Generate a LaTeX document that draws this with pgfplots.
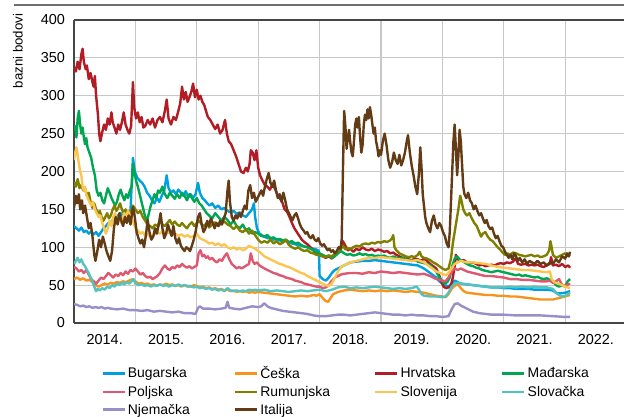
\documentclass[border=0pt]{standalone}
\usepackage{fontspec}
\setmainfont{Liberation Sans}
\usepackage{pgfplots}
\pgfplotsset{compat=1.18}

\definecolor{cBG}{RGB}{0,160,223}
\definecolor{cCZ}{RGB}{247,148,30}
\definecolor{cHR}{RGB}{178,28,36}
\definecolor{cHU}{RGB}{0,166,81}
\definecolor{cPL}{RGB}{221,88,112}
\definecolor{cRO}{RGB}{128,128,0}
\definecolor{cSI}{RGB}{250,198,80}
\definecolor{cSK}{RGB}{84,194,190}
\definecolor{cDE}{RGB}{153,142,200}
\definecolor{cIT}{RGB}{99,60,22}
\definecolor{gridc}{RGB}{200,200,200}
\definecolor{axc}{RGB}{70,70,70}

\begin{document}
\begin{tikzpicture}
\useasboundingbox (-74bp,-94bp) rectangle (550bp,323bp);
\draw[color={rgb,255:red,110;green,110;blue,110}, line width=1.1bp] (-60bp,318bp) -- (550bp,318bp);
\node[rotate=90, font=\fontsize{13.3}{15}\selectfont] at (-56bp,272bp) {bazni bodovi};
\begin{axis}[
  scale only axis, width=550bp, height=303bp,
  xmin=2014, xmax=2022.958, ymin=0, ymax=400,
  axis x line*=bottom, axis y line*=left,
  axis line style={-, draw=axc, line width=1.1bp},
  xtick={2014.5,2015.5,...,2022.5},
  xticklabels={2014.,2015.,2016.,2017.,2018.,2019.,2020.,2021.,2022.},
  minor xtick={2015,2016,...,2022},
  ytick={0,50,...,400},
  xminorgrids=true, xmajorgrids=false, ymajorgrids=true,
  grid style={draw=gridc, line width=0.9bp},
  minor grid style={draw=gridc, line width=1.1bp},
  major tick length=0pt, minor tick length=0pt,
  /pgf/number format/assume math mode=true,
  tick label style={font=\fontsize{14.5}{16}\selectfont},
  yticklabel style={xshift=-5.5bp},
  xticklabel style={yshift=-7.5bp},
  legend columns=4,
  legend cell align=left,
  legend style={draw=none, fill=none, at={(axis description cs:0.044,-0.13)}, anchor=north west,
    font=\fontsize{14}{15}\selectfont, row sep=2bp,
    /tikz/every even column/.append style={column sep=42bp},
    /tikz/column 2/.append style={column sep=52bp}},
  legend image code/.code={\draw[#1, line width=2.5bp] (0bp,0bp) -- (22bp,0bp);},
  every axis plot/.append style={line width=2.4bp, line join=round}
]
% Bugarska
\addplot[cBG] coordinates {(2014.00,128)(2014.04,125)(2014.08,122)(2014.12,126)(2014.16,120)(2014.20,122)(2014.24,118)(2014.28,121)(2014.32,117)(2014.36,120)(2014.40,115)(2014.44,120)(2014.48,125)(2014.52,128)(2014.56,132)(2014.60,130)(2014.64,138)(2014.68,135)(2014.72,142)(2014.76,145)(2014.80,140)(2014.84,146)(2014.88,142)(2014.92,148)(2014.96,218)(2014.99,200)(2015.03,192)(2015.07,188)(2015.11,185)(2015.15,180)(2015.19,172)(2015.23,168)(2015.27,162)(2015.31,158)(2015.35,165)(2015.39,160)(2015.43,168)(2015.47,175)(2015.51,195)(2015.54,178)(2015.58,172)(2015.62,175)(2015.66,170)(2015.70,176)(2015.74,172)(2015.78,168)(2015.82,174)(2015.86,166)(2015.90,170)(2015.94,165)(2015.98,170)(2016.02,185)(2016.05,172)(2016.09,165)(2016.13,162)(2016.17,158)(2016.21,155)(2016.25,158)(2016.30,152)(2016.35,155)(2016.40,150)(2016.45,152)(2016.50,148)(2016.55,146)(2016.60,148)(2016.65,144)(2016.70,146)(2016.75,142)(2016.80,140)(2016.85,145)(2016.90,150)(2016.93,158)(2016.95,140)(2016.98,125)(2017.02,118)(2017.06,116)(2017.10,114)(2017.15,112)(2017.20,112)(2017.25,110)(2017.30,111)(2017.35,109)(2017.40,108)(2017.45,108)(2017.50,106)(2017.55,105)(2017.60,104)(2017.65,103)(2017.70,102)(2017.75,101)(2017.80,100)(2017.85,99)(2017.90,98)(2017.95,97)(2017.99,95)(2018.00,62)(2018.05,58)(2018.10,56)(2018.15,60)(2018.20,66)(2018.25,70)(2018.30,72)(2018.35,74)(2018.40,76)(2018.45,78)(2018.50,80)(2018.60,81)(2018.70,82)(2018.80,82)(2018.90,83)(2019.00,82)(2019.10,81)(2019.20,80)(2019.30,79)(2019.40,78)(2019.50,77)(2019.60,76)(2019.70,72)(2019.80,66)(2019.90,60)(2019.95,55)(2020.00,52)(2020.05,50)(2020.10,48)(2020.15,52)(2020.20,56)(2020.25,54)(2020.30,52)(2020.40,51)(2020.50,50)(2020.60,49)(2020.70,48)(2020.80,47)(2020.90,47)(2021.00,46)(2021.10,46)(2021.20,45)(2021.30,45)(2021.40,45)(2021.50,44)(2021.60,44)(2021.70,44)(2021.80,43)(2021.85,40)(2021.90,39)(2022.00,40)(2022.08,42)};
\addlegendentry{Bugarska}
% Češka
\addplot[cCZ] coordinates {(2014.00,58)(2014.05,60)(2014.10,57)(2014.15,59)(2014.20,56)(2014.25,57)(2014.30,54)(2014.35,50)(2014.40,48)(2014.45,50)(2014.50,52)(2014.55,51)(2014.60,53)(2014.65,52)(2014.70,54)(2014.75,53)(2014.80,55)(2014.85,54)(2014.90,56)(2014.95,58)(2015.00,55)(2015.05,52)(2015.10,53)(2015.15,51)(2015.20,52)(2015.25,50)(2015.30,51)(2015.35,49)(2015.40,51)(2015.45,50)(2015.50,52)(2015.55,50)(2015.60,51)(2015.65,49)(2015.70,50)(2015.75,48)(2015.80,50)(2015.85,49)(2015.90,48)(2015.95,50)(2016.00,49)(2016.05,47)(2016.10,48)(2016.15,46)(2016.20,47)(2016.25,45)(2016.30,46)(2016.35,44)(2016.40,45)(2016.45,43)(2016.50,44)(2016.55,42)(2016.60,43)(2016.65,41)(2016.70,42)(2016.75,41)(2016.80,42)(2016.85,40)(2016.90,41)(2016.95,40)(2017.00,41)(2017.10,40)(2017.20,39)(2017.30,38)(2017.40,37)(2017.50,36)(2017.60,35)(2017.70,36)(2017.80,35)(2017.90,37)(2017.95,36)(2018.00,38)(2018.05,33)(2018.10,29)(2018.14,28)(2018.18,33)(2018.22,38)(2018.30,41)(2018.40,43)(2018.50,44)(2018.60,43)(2018.70,42)(2018.80,43)(2018.90,42)(2019.00,43)(2019.10,42)(2019.20,43)(2019.30,42)(2019.40,41)(2019.50,42)(2019.60,41)(2019.70,40)(2019.80,38)(2019.90,36)(2020.00,35)(2020.05,34)(2020.10,38)(2020.15,45)(2020.20,49)(2020.25,51)(2020.30,46)(2020.35,42)(2020.40,40)(2020.50,39)(2020.60,38)(2020.70,37)(2020.80,37)(2020.90,36)(2021.00,36)(2021.10,35)(2021.20,35)(2021.30,34)(2021.40,33)(2021.50,32)(2021.60,31)(2021.70,31)(2021.80,31)(2021.90,33)(2022.00,35)(2022.08,37)};
\addlegendentry{Češka}
% Hrvatska
\addplot[cHR] coordinates {(2014.00,338)(2014.03,332)(2014.06,345)(2014.09,335)(2014.12,355)(2014.14,362)(2014.16,345)(2014.19,335)(2014.21,340)(2014.24,322)(2014.27,330)(2014.30,318)(2014.32,312)(2014.34,326)(2014.36,300)(2014.39,275)(2014.41,250)(2014.43,240)(2014.46,252)(2014.49,262)(2014.52,255)(2014.55,270)(2014.58,262)(2014.61,278)(2014.63,265)(2014.66,258)(2014.69,250)(2014.72,262)(2014.75,255)(2014.78,265)(2014.81,278)(2014.84,262)(2014.87,255)(2014.90,250)(2014.93,260)(2014.96,318)(2014.98,285)(2015.01,270)(2015.04,278)(2015.07,265)(2015.10,272)(2015.13,258)(2015.16,260)(2015.20,268)(2015.24,262)(2015.28,270)(2015.32,258)(2015.36,268)(2015.40,272)(2015.44,265)(2015.48,280)(2015.51,295)(2015.54,270)(2015.58,262)(2015.62,272)(2015.66,268)(2015.70,280)(2015.73,290)(2015.76,312)(2015.79,295)(2015.82,305)(2015.85,292)(2015.88,298)(2015.91,305)(2015.94,316)(2015.97,298)(2016.00,308)(2016.03,295)(2016.06,300)(2016.09,292)(2016.12,288)(2016.15,280)(2016.18,272)(2016.22,268)(2016.26,262)(2016.30,256)(2016.34,262)(2016.38,250)(2016.42,255)(2016.46,268)(2016.49,250)(2016.52,240)(2016.56,236)(2016.60,228)(2016.64,220)(2016.68,210)(2016.72,200)(2016.76,198)(2016.80,205)(2016.83,200)(2016.86,210)(2016.88,228)(2016.91,225)(2016.94,215)(2016.97,228)(2017.00,205)(2017.03,195)(2017.07,188)(2017.11,182)(2017.15,180)(2017.19,176)(2017.23,182)(2017.27,178)(2017.31,170)(2017.35,165)(2017.39,160)(2017.43,150)(2017.47,147)(2017.51,140)(2017.55,132)(2017.59,125)(2017.63,120)(2017.67,115)(2017.71,110)(2017.75,107)(2017.80,104)(2017.85,100)(2017.90,96)(2017.95,92)(2018.00,90)(2018.05,88)(2018.10,86)(2018.15,88)(2018.20,85)(2018.25,90)(2018.30,95)(2018.35,100)(2018.38,108)(2018.42,102)(2018.46,96)(2018.50,98)(2018.55,94)(2018.60,98)(2018.65,96)(2018.70,100)(2018.75,97)(2018.80,96)(2018.85,98)(2018.90,95)(2018.95,97)(2019.00,96)(2019.05,94)(2019.10,95)(2019.15,92)(2019.20,93)(2019.25,90)(2019.30,88)(2019.35,86)(2019.40,85)(2019.45,84)(2019.50,83)(2019.55,85)(2019.60,84)(2019.65,82)(2019.70,85)(2019.75,82)(2019.80,78)(2019.85,75)(2019.90,72)(2019.94,65)(2019.98,55)(2020.02,48)(2020.06,46)(2020.10,47)(2020.14,50)(2020.17,60)(2020.20,75)(2020.22,90)(2020.25,84)(2020.30,82)(2020.35,83)(2020.40,80)(2020.45,79)(2020.50,80)(2020.55,78)(2020.60,76)(2020.65,77)(2020.70,75)(2020.75,76)(2020.80,77)(2020.85,76)(2020.90,78)(2020.95,79)(2021.00,78)(2021.05,80)(2021.10,79)(2021.15,81)(2021.20,86)(2021.23,78)(2021.28,77)(2021.35,78)(2021.40,76)(2021.45,77)(2021.50,76)(2021.55,77)(2021.60,75)(2021.65,74)(2021.70,76)(2021.75,78)(2021.77,87)(2021.80,76)(2021.85,77)(2021.90,75)(2021.95,78)(2022.00,74)(2022.05,76)(2022.08,73)};
\addlegendentry{Hrvatska}
% Mađarska
\addplot[cHU] coordinates {(2014.00,255)(2014.02,260)(2014.04,245)(2014.06,270)(2014.08,280)(2014.10,262)(2014.12,250)(2014.14,258)(2014.16,245)(2014.18,236)(2014.20,244)(2014.22,232)(2014.25,225)(2014.28,218)(2014.31,205)(2014.34,195)(2014.37,175)(2014.40,168)(2014.43,172)(2014.46,162)(2014.49,158)(2014.52,168)(2014.55,178)(2014.58,172)(2014.61,165)(2014.64,160)(2014.67,155)(2014.70,160)(2014.73,170)(2014.76,176)(2014.79,168)(2014.82,162)(2014.85,170)(2014.88,165)(2014.91,175)(2014.94,180)(2014.96,210)(2014.98,200)(2015.01,188)(2015.04,180)(2015.07,170)(2015.10,160)(2015.13,150)(2015.16,140)(2015.19,135)(2015.22,145)(2015.25,155)(2015.28,162)(2015.31,170)(2015.34,165)(2015.37,175)(2015.40,172)(2015.44,180)(2015.48,170)(2015.52,165)(2015.56,172)(2015.60,168)(2015.64,164)(2015.68,170)(2015.72,165)(2015.76,172)(2015.80,168)(2015.84,162)(2015.88,170)(2015.92,165)(2015.96,160)(2016.00,165)(2016.04,158)(2016.08,155)(2016.12,150)(2016.16,145)(2016.20,142)(2016.25,138)(2016.30,145)(2016.35,140)(2016.40,135)(2016.45,140)(2016.50,136)(2016.55,130)(2016.60,135)(2016.65,128)(2016.70,125)(2016.75,130)(2016.80,122)(2016.85,125)(2016.90,118)(2016.95,120)(2017.00,118)(2017.05,115)(2017.10,114)(2017.15,116)(2017.20,112)(2017.25,113)(2017.30,110)(2017.35,111)(2017.40,109)(2017.45,110)(2017.50,107)(2017.55,108)(2017.60,105)(2017.65,106)(2017.70,103)(2017.75,101)(2017.80,100)(2017.85,98)(2017.90,96)(2017.95,94)(2018.00,92)(2018.05,90)(2018.10,88)(2018.15,89)(2018.20,86)(2018.25,88)(2018.30,92)(2018.35,95)(2018.40,92)(2018.45,90)(2018.50,91)(2018.55,89)(2018.60,90)(2018.65,92)(2018.70,90)(2018.75,91)(2018.80,89)(2018.85,90)(2018.90,88)(2018.95,89)(2019.00,88)(2019.05,89)(2019.10,87)(2019.15,86)(2019.20,88)(2019.25,86)(2019.30,85)(2019.35,86)(2019.40,84)(2019.45,83)(2019.50,82)(2019.55,83)(2019.60,81)(2019.65,80)(2019.70,79)(2019.75,78)(2019.80,76)(2019.85,72)(2019.90,68)(2019.95,60)(2020.00,55)(2020.04,52)(2020.08,54)(2020.12,60)(2020.16,75)(2020.20,85)(2020.24,88)(2020.28,84)(2020.32,82)(2020.36,80)(2020.40,78)(2020.45,76)(2020.50,75)(2020.55,73)(2020.60,72)(2020.65,70)(2020.70,69)(2020.75,68)(2020.80,67)(2020.85,68)(2020.90,69)(2020.95,68)(2021.00,67)(2021.05,66)(2021.10,65)(2021.15,64)(2021.20,63)(2021.25,64)(2021.30,62)(2021.35,63)(2021.40,62)(2021.45,61)(2021.50,60)(2021.55,61)(2021.60,59)(2021.65,58)(2021.70,59)(2021.75,57)(2021.80,55)(2021.85,50)(2021.90,48)(2021.95,50)(2022.00,48)(2022.04,55)(2022.08,58)};
\addlegendentry{Mađarska}
% Poljska
\addplot[cPL] coordinates {(2014.00,74)(2014.04,72)(2014.08,68)(2014.12,70)(2014.16,66)(2014.20,70)(2014.24,64)(2014.28,58)(2014.32,55)(2014.36,52)(2014.40,56)(2014.44,60)(2014.48,58)(2014.52,62)(2014.56,66)(2014.60,63)(2014.64,60)(2014.68,64)(2014.72,62)(2014.76,66)(2014.80,63)(2014.84,68)(2014.88,65)(2014.92,70)(2014.96,68)(2015.00,72)(2015.04,68)(2015.08,64)(2015.12,66)(2015.16,62)(2015.20,60)(2015.24,61)(2015.28,58)(2015.32,60)(2015.36,62)(2015.40,66)(2015.44,72)(2015.48,76)(2015.52,72)(2015.56,70)(2015.60,74)(2015.64,72)(2015.68,76)(2015.72,74)(2015.76,78)(2015.80,75)(2015.84,73)(2015.88,75)(2015.92,72)(2015.96,74)(2016.00,76)(2016.03,92)(2016.06,96)(2016.09,88)(2016.12,90)(2016.15,86)(2016.18,88)(2016.21,84)(2016.25,86)(2016.29,82)(2016.33,80)(2016.37,84)(2016.41,82)(2016.45,88)(2016.49,92)(2016.53,84)(2016.57,78)(2016.61,75)(2016.65,72)(2016.69,74)(2016.73,72)(2016.77,74)(2016.81,76)(2016.85,78)(2016.88,92)(2016.91,82)(2016.94,78)(2016.98,80)(2017.02,76)(2017.06,74)(2017.10,72)(2017.15,70)(2017.20,68)(2017.25,66)(2017.30,65)(2017.35,63)(2017.40,62)(2017.45,60)(2017.50,59)(2017.55,58)(2017.60,56)(2017.65,55)(2017.70,54)(2017.75,52)(2017.80,51)(2017.85,50)(2017.90,49)(2017.95,48)(2018.00,48)(2018.05,46)(2018.10,47)(2018.15,50)(2018.20,56)(2018.25,60)(2018.30,62)(2018.35,64)(2018.40,65)(2018.50,66)(2018.60,66)(2018.70,65)(2018.80,67)(2018.90,66)(2019.00,68)(2019.10,67)(2019.20,66)(2019.30,67)(2019.40,66)(2019.50,65)(2019.60,64)(2019.70,65)(2019.80,62)(2019.90,58)(2020.00,56)(2020.05,55)(2020.10,60)(2020.15,68)(2020.20,72)(2020.25,70)(2020.30,72)(2020.40,68)(2020.50,66)(2020.60,64)(2020.70,62)(2020.80,62)(2020.90,61)(2021.00,60)(2021.10,58)(2021.20,58)(2021.30,57)(2021.40,57)(2021.50,56)(2021.60,55)(2021.70,55)(2021.75,56)(2021.80,53)(2021.85,55)(2021.90,58)(2021.95,50)(2022.00,49)(2022.08,52)};
\addlegendentry{Poljska}
% Rumunjska
\addplot[cRO] coordinates {(2014.00,186)(2014.03,180)(2014.06,190)(2014.09,178)(2014.12,182)(2014.15,175)(2014.18,178)(2014.21,168)(2014.24,172)(2014.27,160)(2014.30,152)(2014.33,158)(2014.36,150)(2014.39,145)(2014.42,148)(2014.45,140)(2014.48,135)(2014.51,140)(2014.54,145)(2014.57,138)(2014.60,142)(2014.63,150)(2014.66,155)(2014.69,148)(2014.72,152)(2014.75,158)(2014.78,150)(2014.81,145)(2014.84,150)(2014.87,142)(2014.90,148)(2014.93,145)(2014.96,155)(2015.00,150)(2015.04,145)(2015.08,148)(2015.12,140)(2015.16,135)(2015.20,130)(2015.24,128)(2015.28,125)(2015.32,130)(2015.36,128)(2015.40,135)(2015.44,130)(2015.48,128)(2015.52,132)(2015.56,136)(2015.60,130)(2015.64,134)(2015.68,130)(2015.72,128)(2015.76,132)(2015.80,128)(2015.84,125)(2015.88,130)(2015.92,133)(2015.96,128)(2016.00,132)(2016.04,135)(2016.08,130)(2016.12,128)(2016.16,132)(2016.20,126)(2016.25,130)(2016.30,133)(2016.35,128)(2016.40,132)(2016.45,134)(2016.50,130)(2016.55,128)(2016.60,124)(2016.65,128)(2016.70,122)(2016.75,120)(2016.80,124)(2016.85,118)(2016.90,122)(2016.95,116)(2017.00,110)(2017.05,106)(2017.10,108)(2017.15,106)(2017.20,110)(2017.25,105)(2017.30,108)(2017.35,104)(2017.40,106)(2017.45,110)(2017.50,103)(2017.55,100)(2017.60,98)(2017.65,100)(2017.70,97)(2017.75,95)(2017.80,96)(2017.85,93)(2017.90,92)(2017.95,90)(2018.00,89)(2018.05,88)(2018.10,87)(2018.15,89)(2018.20,88)(2018.25,92)(2018.30,95)(2018.35,98)(2018.38,102)(2018.42,97)(2018.46,99)(2018.50,98)(2018.55,100)(2018.60,102)(2018.65,101)(2018.70,104)(2018.75,105)(2018.80,104)(2018.85,106)(2018.90,105)(2018.95,107)(2019.00,106)(2019.05,108)(2019.10,107)(2019.15,109)(2019.18,112)(2019.20,116)(2019.22,100)(2019.25,96)(2019.30,92)(2019.35,90)(2019.40,88)(2019.45,87)(2019.50,88)(2019.55,87)(2019.60,90)(2019.63,94)(2019.66,88)(2019.70,86)(2019.75,85)(2019.80,83)(2019.85,80)(2019.90,78)(2019.95,75)(2020.00,72)(2020.05,70)(2020.10,72)(2020.14,85)(2020.17,105)(2020.20,120)(2020.23,135)(2020.26,150)(2020.29,168)(2020.31,162)(2020.34,150)(2020.37,145)(2020.40,142)(2020.44,145)(2020.48,138)(2020.52,132)(2020.56,128)(2020.60,120)(2020.63,114)(2020.66,118)(2020.70,120)(2020.74,114)(2020.78,110)(2020.82,108)(2020.86,104)(2020.90,100)(2020.94,97)(2020.98,93)(2021.02,90)(2021.06,92)(2021.10,90)(2021.15,93)(2021.20,92)(2021.25,90)(2021.30,89)(2021.35,88)(2021.40,89)(2021.45,90)(2021.50,88)(2021.55,89)(2021.60,87)(2021.65,88)(2021.70,90)(2021.74,96)(2021.76,108)(2021.78,100)(2021.80,90)(2021.85,86)(2021.90,88)(2021.95,90)(2022.00,92)(2022.04,88)(2022.08,90)};
\addlegendentry{Rumunjska}
% Slovenija
\addplot[cSI] coordinates {(2014.00,215)(2014.02,225)(2014.04,232)(2014.06,222)(2014.08,210)(2014.10,200)(2014.12,195)(2014.14,180)(2014.16,175)(2014.18,180)(2014.20,170)(2014.22,165)(2014.25,160)(2014.28,155)(2014.31,160)(2014.34,150)(2014.37,145)(2014.40,140)(2014.43,142)(2014.46,132)(2014.49,125)(2014.52,118)(2014.55,125)(2014.58,135)(2014.61,128)(2014.64,140)(2014.67,145)(2014.70,135)(2014.73,140)(2014.76,132)(2014.79,138)(2014.82,145)(2014.85,140)(2014.88,148)(2014.91,142)(2014.94,138)(2014.97,132)(2015.00,125)(2015.04,122)(2015.08,118)(2015.12,120)(2015.16,115)(2015.20,118)(2015.25,112)(2015.30,116)(2015.35,120)(2015.40,118)(2015.45,122)(2015.50,118)(2015.55,120)(2015.60,116)(2015.65,118)(2015.70,115)(2015.75,117)(2015.80,114)(2015.85,116)(2015.90,113)(2015.95,115)(2016.00,118)(2016.05,112)(2016.10,110)(2016.15,108)(2016.20,105)(2016.25,106)(2016.30,103)(2016.35,105)(2016.40,102)(2016.45,104)(2016.50,100)(2016.55,98)(2016.60,100)(2016.65,97)(2016.70,99)(2016.75,96)(2016.80,98)(2016.85,102)(2016.90,100)(2016.95,98)(2017.00,95)(2017.05,92)(2017.10,88)(2017.15,86)(2017.20,84)(2017.25,82)(2017.30,80)(2017.35,78)(2017.40,77)(2017.45,75)(2017.50,74)(2017.55,72)(2017.60,70)(2017.65,68)(2017.70,66)(2017.75,65)(2017.80,62)(2017.85,60)(2017.90,58)(2017.95,56)(2018.00,54)(2018.05,52)(2018.10,50)(2018.15,49)(2018.20,52)(2018.25,60)(2018.30,68)(2018.35,74)(2018.40,76)(2018.45,78)(2018.50,80)(2018.60,82)(2018.70,84)(2018.80,86)(2018.90,86)(2019.00,87)(2019.10,86)(2019.20,85)(2019.30,84)(2019.40,83)(2019.50,82)(2019.60,83)(2019.70,80)(2019.80,74)(2019.90,68)(2020.00,65)(2020.05,63)(2020.10,66)(2020.15,72)(2020.20,78)(2020.25,80)(2020.30,82)(2020.40,80)(2020.50,80)(2020.60,79)(2020.70,78)(2020.80,76)(2020.90,74)(2021.00,73)(2021.10,72)(2021.20,71)(2021.30,70)(2021.40,70)(2021.50,69)(2021.60,68)(2021.70,67)(2021.75,68)(2021.78,58)(2021.82,54)(2021.88,52)(2021.95,50)(2022.00,48)(2022.08,46)};
\addlegendentry{Slovenija}
% Slovačka
\addplot[cSK] coordinates {(2014.00,78)(2014.03,82)(2014.06,86)(2014.09,80)(2014.12,84)(2014.15,78)(2014.18,75)(2014.21,70)(2014.24,66)(2014.27,60)(2014.30,55)(2014.33,48)(2014.36,42)(2014.39,45)(2014.42,43)(2014.46,46)(2014.50,44)(2014.54,48)(2014.58,46)(2014.62,50)(2014.66,48)(2014.70,52)(2014.74,50)(2014.78,53)(2014.82,51)(2014.86,54)(2014.90,52)(2014.94,55)(2014.97,58)(2015.00,52)(2015.05,50)(2015.10,51)(2015.15,49)(2015.20,50)(2015.25,48)(2015.30,50)(2015.35,49)(2015.40,51)(2015.45,49)(2015.50,50)(2015.55,48)(2015.60,50)(2015.65,49)(2015.70,51)(2015.75,49)(2015.80,50)(2015.85,48)(2015.90,49)(2015.95,47)(2016.00,48)(2016.05,46)(2016.10,47)(2016.15,45)(2016.20,46)(2016.25,44)(2016.30,45)(2016.35,43)(2016.40,44)(2016.45,42)(2016.50,46)(2016.55,43)(2016.60,42)(2016.65,43)(2016.70,42)(2016.75,43)(2016.80,42)(2016.85,44)(2016.90,43)(2016.95,44)(2017.00,43)(2017.10,44)(2017.20,42)(2017.30,43)(2017.40,42)(2017.50,41)(2017.60,42)(2017.70,43)(2017.80,42)(2017.90,43)(2018.00,44)(2018.10,42)(2018.20,44)(2018.30,47)(2018.40,48)(2018.50,46)(2018.60,47)(2018.70,46)(2018.80,47)(2018.90,48)(2019.00,47)(2019.10,46)(2019.20,45)(2019.30,46)(2019.40,45)(2019.50,46)(2019.58,48)(2019.62,44)(2019.66,38)(2019.70,36)(2019.80,35)(2019.90,35)(2020.00,34)(2020.05,35)(2020.10,40)(2020.15,48)(2020.20,52)(2020.25,53)(2020.30,52)(2020.40,51)(2020.50,50)(2020.60,49)(2020.70,48)(2020.80,47)(2020.90,47)(2021.00,47)(2021.10,48)(2021.20,47)(2021.30,48)(2021.40,47)(2021.50,48)(2021.60,47)(2021.70,47)(2021.80,45)(2021.85,40)(2021.90,37)(2021.95,35)(2022.00,36)(2022.08,40)};
\addlegendentry{Slovačka}
% Njemačka
\addplot[cDE] coordinates {(2014.00,25)(2014.05,24)(2014.10,22)(2014.15,23)(2014.20,21)(2014.25,22)(2014.30,20)(2014.35,21)(2014.40,20)(2014.45,21)(2014.50,19)(2014.55,20)(2014.60,19)(2014.70,18)(2014.80,19)(2014.90,17)(2015.00,17)(2015.10,16)(2015.20,17)(2015.30,15)(2015.40,16)(2015.50,15)(2015.60,14)(2015.70,15)(2015.80,13)(2015.90,13)(2015.98,12)(2016.02,20)(2016.05,22)(2016.10,19)(2016.20,19)(2016.30,18)(2016.40,19)(2016.47,20)(2016.50,28)(2016.53,20)(2016.60,19)(2016.70,18)(2016.80,20)(2016.90,22)(2017.00,21)(2017.05,22)(2017.10,26)(2017.15,22)(2017.20,20)(2017.30,18)(2017.40,16)(2017.50,15)(2017.60,14)(2017.70,13)(2017.80,12)(2017.90,10)(2018.00,9)(2018.10,9)(2018.20,10)(2018.30,11)(2018.40,11)(2018.50,10)(2018.60,11)(2018.70,12)(2018.80,13)(2018.90,14)(2019.00,13)(2019.10,12)(2019.20,11)(2019.30,11)(2019.40,10)(2019.50,11)(2019.60,10)(2019.70,10)(2019.80,9)(2019.90,9)(2020.00,8)(2020.10,9)(2020.15,18)(2020.20,25)(2020.25,26)(2020.30,23)(2020.35,21)(2020.40,19)(2020.50,15)(2020.60,13)(2020.70,12)(2020.80,11)(2020.90,11)(2021.00,11)(2021.20,10)(2021.40,10)(2021.60,10)(2021.80,9)(2022.00,8)(2022.08,8)};
\addlegendentry{Njemačka}
% Italija
\addplot[cIT] coordinates {(2014.00,152)(2014.03,168)(2014.05,158)(2014.08,170)(2014.10,150)(2014.13,162)(2014.15,145)(2014.18,155)(2014.21,140)(2014.24,125)(2014.27,132)(2014.30,115)(2014.33,90)(2014.35,82)(2014.38,95)(2014.41,110)(2014.44,100)(2014.47,114)(2014.50,105)(2014.53,95)(2014.56,88)(2014.59,82)(2014.62,95)(2014.65,125)(2014.68,140)(2014.71,130)(2014.74,145)(2014.77,135)(2014.80,128)(2014.83,140)(2014.86,132)(2014.89,142)(2014.92,130)(2014.96,153)(2014.99,140)(2015.02,120)(2015.05,112)(2015.08,105)(2015.11,110)(2015.14,100)(2015.17,115)(2015.20,136)(2015.23,120)(2015.26,110)(2015.29,114)(2015.32,125)(2015.35,118)(2015.38,130)(2015.41,145)(2015.44,125)(2015.47,112)(2015.50,118)(2015.53,130)(2015.56,122)(2015.59,115)(2015.62,128)(2015.65,112)(2015.68,105)(2015.71,112)(2015.74,102)(2015.77,98)(2015.80,95)(2015.83,100)(2015.86,98)(2015.89,95)(2015.92,102)(2015.95,110)(2015.98,120)(2016.02,140)(2016.05,145)(2016.08,130)(2016.11,120)(2016.14,125)(2016.17,135)(2016.20,128)(2016.23,138)(2016.26,132)(2016.29,125)(2016.32,132)(2016.35,128)(2016.38,135)(2016.41,130)(2016.44,138)(2016.47,145)(2016.50,175)(2016.52,188)(2016.54,160)(2016.57,140)(2016.60,135)(2016.63,142)(2016.66,138)(2016.69,145)(2016.72,140)(2016.75,148)(2016.78,155)(2016.81,150)(2016.84,175)(2016.87,182)(2016.90,165)(2016.93,172)(2016.96,160)(2016.99,165)(2017.02,170)(2017.05,175)(2017.08,168)(2017.11,180)(2017.14,190)(2017.17,198)(2017.20,185)(2017.23,180)(2017.26,188)(2017.29,175)(2017.32,165)(2017.35,170)(2017.38,160)(2017.41,172)(2017.44,162)(2017.47,150)(2017.50,145)(2017.53,140)(2017.56,136)(2017.59,142)(2017.62,145)(2017.65,138)(2017.68,130)(2017.71,125)(2017.74,122)(2017.77,118)(2017.80,120)(2017.83,114)(2017.86,112)(2017.89,116)(2017.92,110)(2017.95,108)(2017.98,112)(2018.01,105)(2018.04,102)(2018.07,104)(2018.10,100)(2018.13,96)(2018.16,98)(2018.19,94)(2018.22,96)(2018.25,92)(2018.28,95)(2018.31,100)(2018.34,98)(2018.36,110)(2018.38,200)(2018.40,280)(2018.42,260)(2018.44,230)(2018.46,245)(2018.48,255)(2018.50,238)(2018.52,225)(2018.54,220)(2018.56,240)(2018.58,262)(2018.60,270)(2018.62,258)(2018.64,272)(2018.66,245)(2018.68,225)(2018.70,235)(2018.72,262)(2018.74,275)(2018.76,268)(2018.78,282)(2018.80,270)(2018.82,285)(2018.84,275)(2018.86,262)(2018.88,250)(2018.90,258)(2018.92,240)(2018.94,232)(2018.96,220)(2018.98,228)(2019.00,222)(2019.03,240)(2019.06,250)(2019.09,235)(2019.12,215)(2019.15,205)(2019.18,212)(2019.21,225)(2019.24,215)(2019.27,210)(2019.30,222)(2019.33,208)(2019.36,215)(2019.39,225)(2019.42,240)(2019.44,248)(2019.47,225)(2019.50,208)(2019.53,195)(2019.56,180)(2019.59,170)(2019.62,200)(2019.64,232)(2019.66,205)(2019.68,170)(2019.70,155)(2019.72,140)(2019.74,132)(2019.77,125)(2019.80,120)(2019.83,135)(2019.86,142)(2019.89,130)(2019.92,125)(2019.95,132)(2019.98,128)(2020.01,120)(2020.04,115)(2020.07,105)(2020.10,100)(2020.12,120)(2020.14,160)(2020.16,200)(2020.18,240)(2020.20,262)(2020.22,230)(2020.24,195)(2020.26,220)(2020.28,255)(2020.30,240)(2020.32,210)(2020.34,180)(2020.36,170)(2020.39,165)(2020.42,172)(2020.45,162)(2020.48,158)(2020.51,150)(2020.54,155)(2020.57,148)(2020.60,142)(2020.63,145)(2020.66,138)(2020.69,132)(2020.72,136)(2020.75,128)(2020.78,124)(2020.81,126)(2020.84,118)(2020.87,112)(2020.90,115)(2020.93,108)(2020.96,102)(2020.99,100)(2021.02,94)(2021.05,90)(2021.08,86)(2021.11,90)(2021.14,84)(2021.17,92)(2021.20,88)(2021.23,82)(2021.26,86)(2021.30,80)(2021.34,84)(2021.38,78)(2021.42,82)(2021.46,80)(2021.50,78)(2021.55,82)(2021.60,78)(2021.65,80)(2021.70,76)(2021.75,80)(2021.80,78)(2021.85,84)(2021.90,80)(2021.95,88)(2022.00,85)(2022.03,92)(2022.06,88)(2022.08,94)};
\addlegendentry{Italija}
\end{axis}
\draw[draw=axc, line width=1.1bp] (0bp,303bp) -- (550bp,303bp);
\end{tikzpicture}
\end{document}
